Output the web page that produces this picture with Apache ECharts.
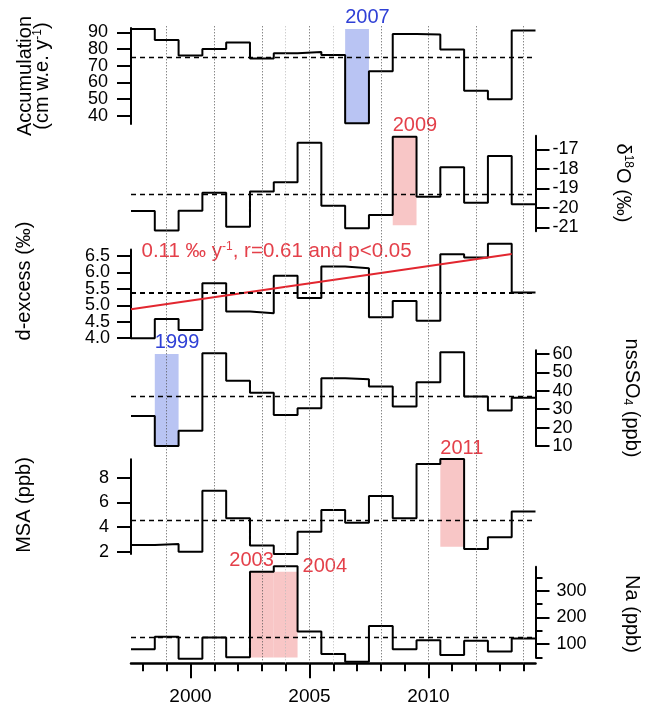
<!DOCTYPE html>
<html>
<head>
<meta charset="utf-8">
<script src="https://cdn.jsdelivr.net/npm/echarts@6/dist/echarts.min.js"></script>
<style>
  html, body { margin: 0; padding: 0; background: #fff; }
  #chart { width: 653px; height: 708px; }
</style>
</head>
<body>
<div id="chart"></div>
<script>
// one value per year, drawn as steps centred on the year
var years = [1998, 1999, 2000, 2001, 2002, 2003, 2004, 2005, 2006, 2007, 2008, 2009, 2010, 2011, 2012, 2013, 2014]
var accumulation = [92, 85.4, 76, 80, 83.8, 74.2, 77.4, 78.2, 76.4, 35.4, 66.6, 89, 88.6, 79.6, 55, 49.8, 91]
var d18O = [-20.16, -21.17, -20.15, -19.23, -20.97, -19.17, -18.69, -16.66, -19.9, -21.05, -20.37, -16.35, -19.43, -17.92, -19.74, -17.34, -19.82]
var dExcess = [4.0, 4.58, 4.25, 5.67, 4.81, 4.76, 5.9, 5.22, 6.18, 6.13, 4.64, 5.13, 4.53, 6.55, 6.45, 6.87, 5.39]
var nssSO4 = [26.3, 10, 18.3, 60.4, 45.5, 39, 26.9, 30.5, 46.8, 46.3, 42.3, 31.4, 44.7, 61, 36.9, 29.3, 36.2]
var msa = [2.54, 2.62, 2.0, 6.95, 4.71, 2.49, 1.81, 3.62, 5.38, 4.35, 6.52, 4.71, 9.11, 9.52, 2.22, 3.17, 5.25]
var na = [81, 128, 45, 125, 51, 371, 392, 147, 63, 34, 168, 81, 115, 59, 113, 72, 121]

// dashed mean of each record
var accMean = 75.2
var d18OMean = -19.29
var dExcessMean = 5.37
var so4Mean = 37.1
var msaMean = 4.54
var naMean = 127

// d-excess linear trend (end points)
var trendX = [1997.5, 2013.5]
var trendY = [4.88, 6.56]

// shaded years: year, from, to
var accHigh = [[2007, 35.4, 92]]
var d18OHigh = [[2009, -20.9, -16.35]]
var so4High = [[1999, 10, 60]]
var msaHigh = [[2011, 2.4, 9.52]]
var naHigh = [[2003, 42, 371], [2004, 42, 371]]

// tick labels
var accTicks = [40, 50, 60, 70, 80, 90]
var d18OTicks = [-21, -20, -19, -18, -17]
var dExcessTicks = [4.0, 4.5, 5.0, 5.5, 6.0, 6.5]
var so4Ticks = [10, 20, 30, 40, 50, 60]
var msaTicks = [2, 4, 6, 8]
var naTicks = [100, 200, 300]
var naMinorTicks = [50, 150, 250, 350]
var xMajor = [2000, 2005, 2010]
var gridYears = [1999, 2001, 2003, 2005, 2008, 2010, 2012, 2014]
var faintGridYears = [2004, 2006]

var FONT = '"Liberation Sans", Arial, sans-serif'
var BLUE = '#2f40d6'
var RED = '#e4404a'
var BLUE_FILL = '#b9c4f3'
var RED_FILL = '#f8c6c6'
var X0 = 1997.5
var X1 = 2014.5

function stepPoints (vals) {
  var pts = years.map(function (y, i) { return [y - 0.5, vals[i]] })
  pts.push([years[years.length - 1] + 0.5, vals[vals.length - 1]])
  return pts
}

function yAx (grid, pos, min, max, ticks, margin, fmt) {
  return {
    gridIndex: grid,
    type: 'value',
    position: pos,
    min: min,
    max: max,
    axisLine: { show: true, onZero: false, lineStyle: { color: '#000', width: 2 } },
    axisTick: { show: true, customValues: ticks, length: 14, lineStyle: { color: '#000', width: 2 } },
    axisLabel: {
      customValues: ticks,
      margin: margin,
      color: '#000',
      fontSize: 18,
      hideOverlap: false,
      fontFamily: FONT,
      formatter: fmt || function (v) { return String(v) }
    },
    splitLine: { show: false }
  }
}

// tightly packed labels are split over two axes so none get dropped
function every (arr, start) {
  return arr.filter(function (v, i) { return i % 2 === start })
}
function labelsOnly (axis, ticks) {
  axis.axisLine = { show: false, onZero: false }
  axis.axisTick = { show: false }
  axis.axisLabel.customValues = ticks
  return axis
}

// spec: how the year label sits against the shaded box
function area (h, fill, color, spec) {
  return [{
    coord: [h[0] - 0.5, h[2]],
    itemStyle: { color: fill, opacity: 1 },
    label: {
      show: true,
      color: color,
      fontSize: 20,
      fontFamily: FONT,
      formatter: String(h[0]),
      position: spec.position,
      align: spec.align,
      verticalAlign: spec.verticalAlign,
      offset: spec.offset || [0, 0]
    }
  }, {
    coord: [h[0] + 0.5, h[1]]
  }]
}

var above = { position: [0, -1], align: 'left', verticalAlign: 'bottom' }

function panel (idx, yIdx, vals, mean, areas, dashWidth) {
  return {
    type: 'line',
    xAxisIndex: idx,
    yAxisIndex: yIdx,
    data: stepPoints(vals),
    step: 'end',
    symbol: 'none',
    clip: false,
    z: 3,
    lineStyle: { color: '#000', width: 2 },
    markLine: {
      silent: true,
      symbol: 'none',
      label: { show: false },
      lineStyle: { color: '#000', type: [5, 4], width: dashWidth || 1.3 },
      data: [{ yAxis: mean }]
    },
    markArea: {
      silent: true,
      data: areas
    }
  }
}

var L = 131
var W = 404.5
var grids = [
  { left: L, width: W, top: 28.1, height: 95.9 },
  { left: L, width: W, top: 135.65, height: 95.55 },
  { left: L, width: W, top: 249.4, height: 88.8 },
  { left: L, width: W, top: 350.3, height: 95.7 },
  { left: L, width: W, top: 459.2, height: 94.9 },
  { left: L, width: W, top: 566.7, height: 90.8 },
  { left: L, width: W, top: 25, height: 638.3 }
]

var xAxes = []
for (var i = 0; i < 6; i++) {
  xAxes.push({ gridIndex: i, type: 'value', min: X0, max: X1, show: false })
}
xAxes.push({
  gridIndex: 6,
  type: 'value',
  min: X0,
  max: X1,
  position: 'bottom',
  axisLine: { show: true, onZero: false, lineStyle: { color: '#000', width: 2.5 } },
  axisTick: { show: true, customValues: xMajor, length: 15, lineStyle: { color: '#000', width: 2 } },
  axisLabel: {
    customValues: xMajor,
    margin: 24,
    color: '#000',
    fontSize: 19,
    fontFamily: FONT,
    formatter: function (v) { return String(v) }
  },
  splitLine: { show: false }
})
xAxes.push({
  gridIndex: 6,
  type: 'value',
  min: X0,
  max: X1,
  position: 'bottom',
  axisLine: { show: false, onZero: false },
  axisTick: { show: true, customValues: years, length: 8, lineStyle: { color: '#000', width: 2 } },
  axisLabel: { show: false },
  splitLine: { show: false }
})

var naMinor = yAx(5, 'right', 50, 390, naMinorTicks, 20)
naMinor.axisLine.show = false
naMinor.axisTick.length = 7
naMinor.axisLabel = { show: false }

var fmt1 = function (v) { return v.toFixed(1) }

var accMain = yAx(0, 'left', 35, 92.5, accTicks, 23)
accMain.axisLabel.customValues = every(accTicks, 0)
var dexMain = yAx(2, 'left', 4.0, 6.7, dExcessTicks, 21, fmt1)
dexMain.axisLabel.customValues = every(dExcessTicks, 0)

var yAxes = [
  accMain,
  yAx(1, 'right', -21.2, -16.3, d18OTicks, 17),
  dexMain,
  yAx(3, 'right', 10, 62, so4Ticks, 17),
  yAx(4, 'left', 1.8, 9.5, msaTicks, 22),
  yAx(5, 'right', 50, 390, naTicks, 21),
  naMinor,
  { gridIndex: 6, type: 'value', min: 0, max: 1, show: false },
  labelsOnly(yAx(0, 'left', 35, 92.5, accTicks, 23), every(accTicks, 1)),
  labelsOnly(yAx(2, 'left', 4.0, 6.7, dExcessTicks, 21, fmt1), every(dExcessTicks, 1))
]

var vLines = gridYears.map(function (y) {
  return { xAxis: y, lineStyle: { color: '#555', type: [1, 2], width: 1 } }
}).concat(faintGridYears.map(function (y) {
  return { xAxis: y, lineStyle: { color: '#bbb', type: [1, 2], width: 1 } }
}))

var series = [
  {
    type: 'line',
    xAxisIndex: 6,
    yAxisIndex: 7,
    data: [],
    z: 1,
    markLine: { silent: true, symbol: 'none', label: { show: false }, data: vLines }
  },
  panel(0, 0, accumulation, accMean, accHigh.map(function (h) { return area(h, BLUE_FILL, BLUE, above) })),
  panel(1, 1, d18O, d18OMean, d18OHigh.map(function (h) { return area(h, RED_FILL, RED, above) })),
  panel(2, 2, dExcess, dExcessMean, [], 2.2),
  panel(3, 3, nssSO4, so4Mean, so4High.map(function (h) { return area(h, BLUE_FILL, BLUE, above) })),
  panel(4, 4, msa, msaMean, msaHigh.map(function (h) { return area(h, RED_FILL, RED, above) })),
  panel(5, 5, na, naMean, [
    area(naHigh[0], RED_FILL, RED, { position: ['100%', -1], align: 'right', verticalAlign: 'bottom' }),
    area(naHigh[1], RED_FILL, RED, { position: ['100%', 0], align: 'left', verticalAlign: 'middle', offset: [5, -5] })
  ]),
  {
    type: 'line',
    xAxisIndex: 2,
    yAxisIndex: 2,
    data: [[trendX[0], trendY[0]], [trendX[1], trendY[1]]],
    symbol: 'none',
    clip: false,
    z: 4,
    lineStyle: { color: '#e2262f', width: 2 }
  }
]

var sup = { fontSize: 12, fontFamily: FONT, verticalAlign: 'top', lineHeight: 22 }
var sub = { fontSize: 12, fontFamily: FONT, verticalAlign: 'bottom', lineHeight: 22 }

function title (x, y, rot, text, color, size, align) {
  return {
    type: 'text',
    x: x,
    y: y,
    rotation: rot,
    silent: true,
    style: {
      text: text,
      fill: color || '#000',
      fontSize: size || 20,
      fontFamily: FONT,
      align: align || 'center',
      verticalAlign: 'middle',
      lineHeight: 22,
      rich: { sup: sup, sub: sub }
    }
  }
}

var chart = echarts.init(document.getElementById('chart'))
chart.setOption({
  animation: false,
  backgroundColor: '#fff',
  grid: grids,
  xAxis: xAxes,
  yAxis: yAxes,
  series: series,
  graphic: [
    title(25.5, 76, Math.PI / 2, 'Accumulation'),
    title(42.5, 76, Math.PI / 2, '(cm w.e. y{sup|-1})'),
    title(24, 281, Math.PI / 2, 'd-excess (‰)'),
    title(24, 505, Math.PI / 2, 'MSA (ppb)'),
    title(623, 183, -Math.PI / 2, 'δ{sup|18}O (‰)'),
    title(632, 398, -Math.PI / 2, 'nssSO{sub|4} (ppb)'),
    title(632, 614, -Math.PI / 2, 'Na (ppb)'),
    title(141.5, 251.7, 0, '0.11 ‰ y{sup|-1}, r=0.61 and p<0.05', RED, 20.5, 'left')
  ]
})
</script>
</body>
</html>
